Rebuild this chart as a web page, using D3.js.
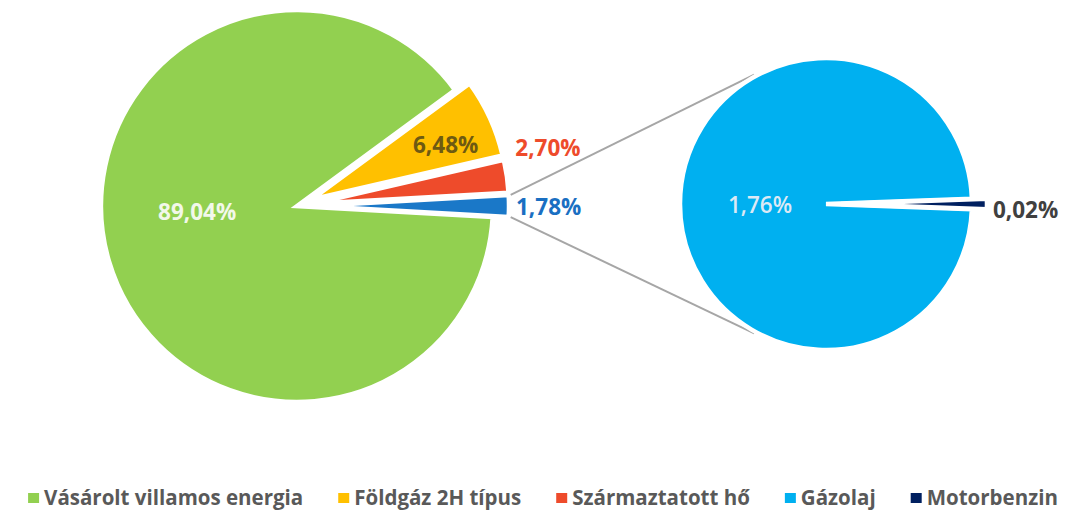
<!DOCTYPE html>
<html>
<head>
<meta charset="utf-8">
<script src="https://cdn.jsdelivr.net/npm/d3@7"></script>
<style>
  html, body { margin: 0; padding: 0; background: #fff; }
  svg { display: block; font-family: "Open Sans", Lato, sans-serif; }
</style>
</head>
<body>
<script>
// data (percent shares)
const mainNames  = ["Vásárolt villamos energia", "Földgáz 2H típus", "Származtatott hő", "Egyéb"];
const mainValues = [89.04, 6.48, 2.70, 1.78];
const mainColors = ["#92d050", "#ffc000", "#ee4b2b", "#1a78c8"];

const subNames  = ["Gázolaj", "Motorbenzin"];
const subValues = [1.76, 0.02];
const subColors = ["#00b0f0", "#002060"];

const legendNames  = ["Vásárolt villamos energia", "Földgáz 2H típus", "Származtatott hő", "Gázolaj", "Motorbenzin"];
const legendColors = ["#92d050", "#ffc000", "#ee4b2b", "#00b0f0", "#002060"];

const fmt = v => d3.format(".2f")(v).replace(".", ",") + "%";

const width = 1086, height = 513;
const svg = d3.select("body").append("svg")
  .attr("width", width).attr("height", height);

const deg = Math.PI / 180;
const polar = (cx, cy, a, r) => [cx + r * Math.sin(a), cy - r * Math.cos(a)];

// ---- main pie
const c1 = {x: 297, y: 206, r: 196, explode: 16};
const total1 = d3.sum(mainValues);
const s1 = Math.PI / 2 + mainValues[3] / total1 * Math.PI; // "other" slice faces right
const pie1 = d3.pie().sort(null).startAngle(s1).endAngle(s1 + 2 * Math.PI);
const arcs1 = pie1(mainValues);
const arc1 = d3.arc().innerRadius(0).outerRadius(c1.r);

const g1 = svg.append("g").attr("transform", `translate(${c1.x},${c1.y})`);
g1.selectAll("path").data(arcs1).join("path")
  .attr("d", arc1)
  .attr("fill", (d, i) => mainColors[i])
  .attr("stroke", "#fff").attr("stroke-width", 4.5)
  .attr("transform", (d, i) => {
    if (i === 0) return null;
    const m = (d.startAngle + d.endAngle) / 2;
    const [dx, dy] = polar(0, 0, m, c1.explode);
    return `translate(${dx},${dy})`;
  });

// ---- second pie
const c2 = {x: 826, y: 204, r: 146, explode: 15};
const total2 = d3.sum(subValues);
const s2 = Math.PI / 2 + subValues[1] / total2 * Math.PI;
const pie2 = d3.pie().sort(null).startAngle(s2).endAngle(s2 + 2 * Math.PI);
const arcs2 = pie2(subValues);
const arc2 = d3.arc().innerRadius(0).outerRadius(c2.r);

// connector lines
const other = arcs1[3];
const [ox, oy] = polar(0, 0, (other.startAngle + other.endAngle) / 2, c1.explode);
const pTop = polar(c1.x + ox, c1.y + oy, other.startAngle, c1.r + 2);
const pBot = polar(c1.x + ox, c1.y + oy, other.endAngle, c1.r + 2);
const qTop = polar(c2.x, c2.y, 331 * deg, c2.r + 2);
const qBot = polar(c2.x, c2.y, 209 * deg, c2.r + 2);
svg.append("g").selectAll("line").data([[pTop, qTop], [pBot, qBot]]).join("line")
  .attr("x1", d => d[0][0]).attr("y1", d => d[0][1])
  .attr("x2", d => d[1][0]).attr("y2", d => d[1][1])
  .attr("stroke", "#a6a6a6").attr("stroke-width", 2);

const g2 = svg.append("g").attr("transform", `translate(${c2.x},${c2.y})`);
g2.selectAll("path").data(arcs2).join("path")
  .attr("d", arc2)
  .attr("fill", (d, i) => subColors[i])
  .attr("stroke", "#fff").attr("stroke-width", 4.5)
  .attr("transform", (d, i) => {
    if (i === 0) return null;
    const m = (d.startAngle + d.endAngle) / 2;
    const [dx, dy] = polar(0, 0, m, c2.explode);
    return `translate(${dx},${dy})`;
  });

// ---- data labels
const labelStyle = sel => sel
  .attr("font-size", 22.5).attr("font-weight", 700)
  .attr("dominant-baseline", "central");

// main pie labels: [angle(deg), radius, anchor, colour]
const mainLabelPos = [
  [267, 100, "middle", "#f2f8ea"],
  [67.4, 161, "middle", "#6e5a12"],
  [75, 226, "start", "#ee4b2b"],
  [90, 219, "start", "#1a6fc2"]
];
svg.append("g").selectAll("text").data(mainValues).join("text")
  .call(labelStyle)
  .attr("x", (d, i) => polar(c1.x, c1.y, mainLabelPos[i][0] * deg, mainLabelPos[i][1])[0])
  .attr("y", (d, i) => polar(c1.x, c1.y, mainLabelPos[i][0] * deg, mainLabelPos[i][1])[1])
  .attr("text-anchor", (d, i) => mainLabelPos[i][2])
  .attr("fill", (d, i) => mainLabelPos[i][3])
  .text(d => fmt(d));

const subLabelPos = [
  [270, 66, "middle", "#dce9f5", 600],
  [92, 167, "start", "#404040", 700]
];
svg.append("g").selectAll("text").data(subValues).join("text")
  .call(labelStyle)
  .attr("x", (d, i) => polar(c2.x, c2.y, subLabelPos[i][0] * deg, subLabelPos[i][1])[0])
  .attr("y", (d, i) => polar(c2.x, c2.y, subLabelPos[i][0] * deg, subLabelPos[i][1])[1])
  .attr("text-anchor", (d, i) => subLabelPos[i][2])
  .attr("fill", (d, i) => subLabelPos[i][3])
  .attr("font-weight", (d, i) => subLabelPos[i][4])
  .text(d => fmt(d));

// ---- legend
const legend = svg.append("g").attr("transform", "translate(0,497)");
const items = legend.selectAll("g").data(legendNames).join("g");
items.append("rect")
  .attr("width", 11).attr("height", 10).attr("y", -4)
  .attr("fill", (d, i) => legendColors[i]);
items.append("text")
  .attr("x", 16).attr("y", 0)
  .attr("dominant-baseline", "central")
  .attr("font-size", 20.5).attr("font-weight", 700)
  .attr("fill", "#595959")
  .text(d => d);

const gap = 35;
let xx = 0;
const xs = [];
items.each(function() {
  xs.push(xx);
  xx += 16 + d3.select(this).select("text").node().getComputedTextLength() + gap;
});
const totalW = xx - gap;
const x0 = (width - totalW) / 2;
items.attr("transform", (d, i) => `translate(${x0 + xs[i]},0)`);
</script>
</body>
</html>
